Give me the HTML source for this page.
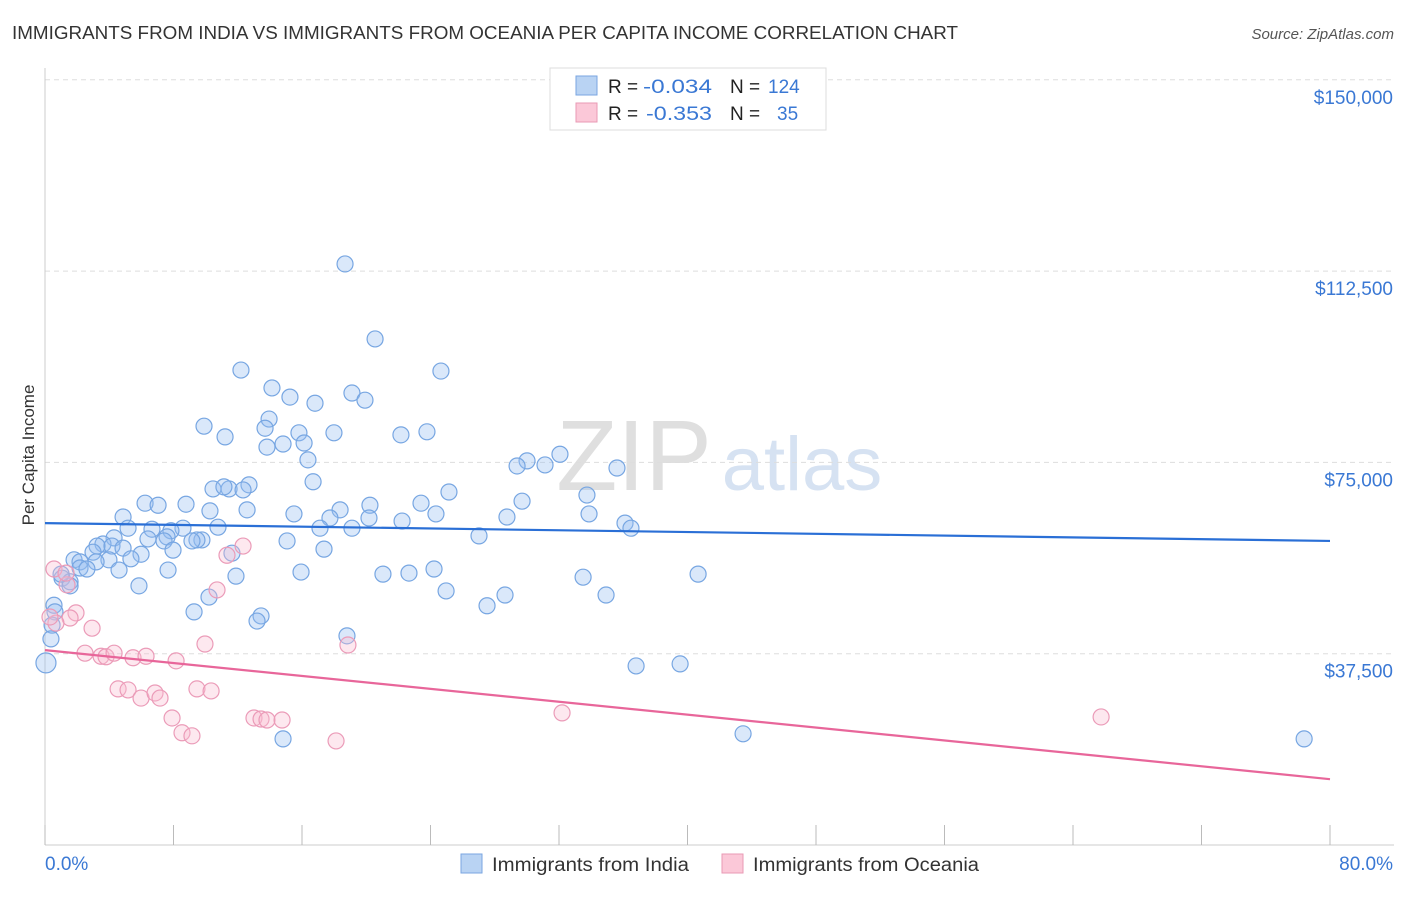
<!DOCTYPE html>
<html><head><meta charset="utf-8"><style>
body{margin:0;background:#fff;font-family:"Liberation Sans",sans-serif;}
svg text{font-family:"Liberation Sans",sans-serif;}
</style></head><body>
<svg id="chart" width="1406" height="892" viewBox="0 0 1406 892">
<text x="12" y="39" font-size="18" fill="#333" textLength="946" lengthAdjust="spacingAndGlyphs">IMMIGRANTS FROM INDIA VS IMMIGRANTS FROM OCEANIA PER CAPITA INCOME CORRELATION CHART</text>
<text x="1394" y="39" font-size="15" fill="#555" font-style="italic" text-anchor="end">Source: ZipAtlas.com</text>
<text x="634" y="490" font-size="100" fill="#dfdfdf" font-family="Liberation Serif" text-anchor="middle">ZIP</text>
<text x="802" y="490" font-size="76" fill="#d6e2f2" text-anchor="middle">atlas</text>
<text transform="translate(34,455) rotate(-90)" font-size="17" fill="#333" text-anchor="middle">Per Capita Income</text>
<g id="grid"></g><g id="axes"></g><g id="pts"></g><g id="trends"></g>
<g>
<rect x="550" y="68" width="276" height="62" fill="#fff" stroke="#ddd"/>
<rect x="576" y="76" width="21" height="19" fill="#b9d3f3" stroke="#7aa6e0"/>
<rect x="576" y="103" width="21" height="19" fill="#fbc8d8" stroke="#e89ab4"/>
<text x="608" y="93" font-size="19" fill="#222">R = <tspan fill="#3a78d4" x="643" textLength="69" lengthAdjust="spacingAndGlyphs">-0.034</tspan><tspan x="730">N = </tspan><tspan fill="#3a78d4" x="768">124</tspan></text>
<text x="608" y="120" font-size="19" fill="#222">R = <tspan fill="#3a78d4" x="646" textLength="66" lengthAdjust="spacingAndGlyphs">-0.353</tspan><tspan x="730">N = </tspan><tspan fill="#3a78d4" x="777">35</tspan></text>
</g>
<g>
<rect x="461" y="854" width="21" height="19" fill="#b9d3f3" stroke="#7aa6e0"/>
<text x="492" y="871" font-size="19" fill="#333" textLength="197" lengthAdjust="spacingAndGlyphs">Immigrants from India</text>
<rect x="722" y="854" width="21" height="19" fill="#fbc8d8" stroke="#e89ab4"/>
<text x="753" y="871" font-size="19" fill="#333" textLength="226" lengthAdjust="spacingAndGlyphs">Immigrants from Oceania</text>
</g>
</svg>
<script>
const yTicks=[37500,75000,112500,150000];
const yTickLabels=["$37,500","$75,000","$112,500","$150,000"];
const xTickLabels=["0.0%","80.0%"];
const indiaX=[18.68,20.55,12.20,24.65,14.13,19.11,15.25,19.92,16.81,13.95,9.90,11.21,13.70,15.81,17.99,22.16,23.78,13.82,14.82,16.13,16.37,32.06,30.01,29.39,31.13,35.61,16.69,10.46,11.46,12.70,12.33,11.14,25.15,33.74,29.70,6.23,8.78,7.04,20.23,23.41,10.27,12.58,18.37,4.86,15.50,17.74,20.17,24.34,28.76,33.87,22.23,10.77,5.17,6.66,8.59,17.12,19.11,36.11,36.48,7.84,7.60,9.77,9.46,27.02,4.30,6.41,7.41,9.15,3.61,3.24,4.17,1.81,2.18,4.86,5.98,7.97,2.99,15.07,11.64,5.35,17.37,3.98,4.61,3.18,2.18,2.61,7.66,15.94,11.89,21.04,22.66,24.22,33.50,40.66,1.06,1.56,1.56,5.85,10.21,24.97,28.64,34.93,27.52,9.28,13.45,13.20,0.56,0.62,0.44,18.80,36.80,39.54,0.06,0.37,43.46,14.82,78.39,1.00];
const indiaY=[113.9,99.2,93.1,92.9,89.6,88.6,87.8,87.2,86.6,83.5,82.1,80.0,81.7,80.8,80.8,80.4,81.0,78.0,78.6,78.8,75.5,76.6,75.3,74.3,74.5,73.9,71.2,69.8,69.8,70.6,69.6,70.2,69.2,68.6,67.4,67.0,66.8,66.6,66.6,67.0,65.5,65.7,65.7,64.3,64.9,64.1,64.1,64.9,64.3,64.9,63.5,62.3,62.1,61.9,62.1,62.1,62.1,63.1,62.1,61.6,60.4,59.8,59.8,60.6,60.2,60.0,59.6,59.6,59.0,58.6,58.6,55.9,55.5,58.2,57.0,57.8,57.4,59.6,57.2,56.1,58.0,55.9,53.9,55.5,54.3,54.1,53.9,53.5,52.7,53.1,53.3,54.1,52.5,53.1,52.3,51.6,50.8,50.8,48.6,49.8,49.0,49.0,46.9,45.7,44.9,43.9,47.0,45.7,43.1,41.0,35.1,35.5,35.7,40.4,21.8,20.8,20.8,53.1];
const oceX=[0.56,1.37,1.31,1.93,1.56,0.68,0.31,2.93,2.49,3.49,3.80,4.30,5.48,6.29,8.16,9.96,10.71,11.33,12.33,4.55,5.17,5.98,6.85,7.16,9.46,10.34,7.91,8.53,9.15,13.01,13.45,13.82,14.76,18.12,18.86,32.19,65.75];
const oceY=[54.1,51.0,53.3,45.5,44.5,43.5,44.7,42.5,37.6,37.0,36.9,37.6,36.7,37.0,36.1,39.4,50.0,56.8,58.6,30.6,30.4,28.8,29.8,28.8,30.6,30.2,24.9,22.0,21.4,24.9,24.7,24.5,24.5,20.4,39.2,25.9,25.1];
const indiaTrend=[63.1,59.6];
const oceTrend=[38.2,12.9];
const NS="http://www.w3.org/2000/svg";
const X0=45,X1=1330,Y0=845,YPX=191.3/37500;
function sx(p){return X0+(X1-X0)*p/80;}
function sy(v){return Y0-v*YPX;}
function mk(t,a,parent){const e=document.createElementNS(NS,t);for(const k in a)e.setAttribute(k,a[k]);parent.appendChild(e);return e;}
const grid=document.getElementById('grid'),axes=document.getElementById('axes'),pts=document.getElementById('pts'),tr=document.getElementById('trends');
yTicks.forEach((v,i)=>{
 const l=mk('line',{x1:X0,x2:1394,y1:sy(v),y2:sy(v),stroke:'#ddd','stroke-dasharray':'5,4'},grid);
 
 
 const t=mk('text',{x:1393,y:sy(v)+24,'font-size':19,fill:'#3a78d4','text-anchor':'end'},axes);
 t.textContent=yTickLabels[i];
 
 
});
let ga=mk('line',{x1:X0,x2:X0,y1:68,y2:Y0,stroke:'#ccc'},axes);


let xa=mk('line',{x1:X0,x2:1394,y1:Y0,y2:Y0,stroke:'#ccc'},axes);


for(let p=0;p<=80;p+=8){const t=mk('line',{x1:sx(p),x2:sx(p),y1:825,y2:Y0,stroke:'#bbb'},axes);
 
 }
[[0,'start',45],[80,'end',1393]].forEach((d,i)=>{const t=mk('text',{x:d[2],y:870,'font-size':19,fill:'#3a78d4','text-anchor':d[1]},axes);t.textContent=xTickLabels[i];
 
 });
indiaX.forEach((x,i)=>{const c=mk('circle',{cx:sx(x),cy:sy(indiaY[i]*1000),r:x<0.2?10:8,fill:'rgba(150,190,240,0.35)',stroke:'#77a6e2','stroke-width':1.2},pts);
 
 });
oceX.forEach((x,i)=>{const c=mk('circle',{cx:sx(x),cy:sy(oceY[i]*1000),r:8,fill:'rgba(250,190,210,0.35)',stroke:'#eb9bb8','stroke-width':1.2},pts);
 
 });
const l1=mk('line',{x1:sx(0),y1:sy(indiaTrend[0]*1000),x2:sx(80),y2:sy(indiaTrend[1]*1000),stroke:'#2a6fd6','stroke-width':2.2},tr);


const l2=mk('line',{x1:sx(0),y1:sy(oceTrend[0]*1000),x2:sx(80),y2:sy(oceTrend[1]*1000),stroke:'#e8669a','stroke-width':2.2},tr);


</script>
</body></html>
